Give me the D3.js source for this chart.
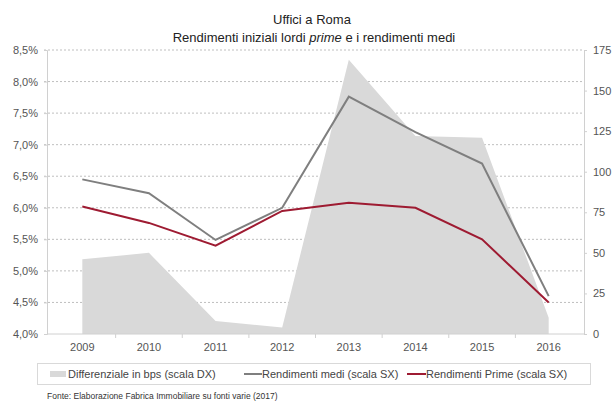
<!DOCTYPE html>
<html>
<head>
<meta charset="utf-8">
<script src="https://cdn.jsdelivr.net/npm/d3@7"></script>
<style>
  html, body { margin: 0; padding: 0; background: #fff; }
  svg { display: block; font-family: "Liberation Sans", Arial, sans-serif; }
</style>
</head>
<body>
<svg id="chart" width="616" height="402"></svg>
<script>
// Anni e serie
const years = ["2009", "2010", "2011", "2012", "2013", "2014", "2015", "2016"];
const differenziale = [46, 50, 8, 4, 169, 122, 121, 10];        // bps, scala DX
const rendimentiMedi = [6.45, 6.23, 5.49, 6.0, 7.76, 7.2, 6.7, 4.6]; // %, scala SX
const rendimentiPrime = [6.02, 5.76, 5.4, 5.95, 6.08, 6.0, 5.5, 4.5]; // %, scala SX
const leftTicks = [4.0, 4.5, 5.0, 5.5, 6.0, 6.5, 7.0, 7.5, 8.0, 8.5];
const rightTicks = [0, 25, 50, 75, 100, 125, 150, 175];

const svg = d3.select("#chart");
const plot = { left: 47, right: 584, top: 50, bottom: 334 };

const x = d3.scaleBand().domain(years).range([plot.left + 2, plot.right - 2]);
const cx = d => x(d) + x.bandwidth() / 2;
const yL = d3.scaleLinear().domain([4.0, 8.5]).range([plot.bottom, plot.top]);
const yR = d3.scaleLinear().domain([0, 175]).range([plot.bottom, plot.top]);

const fmtPct = d => d3.format(".1f")(d).replace(".", ",") + "%";

// Titolo
svg.append("text").attr("x", 312).attr("y", 24).attr("text-anchor", "middle")
  .attr("font-size", 13).attr("fill", "#222").text("Uffici a Roma");
const t2 = svg.append("text").attr("x", 314).attr("y", 42).attr("text-anchor", "middle")
  .attr("font-size", 13).attr("fill", "#222");
t2.append("tspan").text("Rendimenti iniziali lordi ");
t2.append("tspan").attr("font-style", "italic").text("prime");
t2.append("tspan").text(" e i rendimenti medi");

// Griglia tratteggiata
svg.append("g").selectAll("line").data(leftTicks.slice(1)).join("line")
  .attr("x1", plot.left - 3).attr("x2", plot.right)
  .attr("y1", d => yL(d)).attr("y2", d => yL(d))
  .attr("stroke", "#bfbfbf").attr("stroke-width", 1).attr("stroke-dasharray", "2,2");

// Area differenziale
const area = d3.area()
  .x((d, i) => cx(years[i]))
  .y0(plot.bottom)
  .y1(d => yR(d));
svg.append("path").datum(differenziale).attr("d", area).attr("fill", "#d9d9d9");

// Assi
const axL = svg.append("g").attr("transform", `translate(${plot.left},0)`)
  .call(d3.axisLeft(yL).tickValues(leftTicks).tickFormat(fmtPct).tickSize(3).tickPadding(6));
const axR = svg.append("g").attr("transform", `translate(${plot.right},0)`)
  .call(d3.axisRight(yR).tickValues(rightTicks).tickSize(3).tickPadding(6));
const axB = svg.append("g").attr("transform", `translate(0,${plot.bottom})`)
  .call(d3.axisBottom(x).tickSize(0).tickPadding(9));
// tacche tra le categorie
svg.append("g").selectAll("line").data(years.slice(1)).join("line")
  .attr("x1", d => x(d)).attr("x2", d => x(d))
  .attr("y1", plot.bottom).attr("y2", plot.bottom + 4)
  .attr("stroke", "#d0d0d0");

[axL, axR, axB].forEach(g => {
  g.select(".domain").attr("stroke", "#d0d0d0");
  g.selectAll(".tick line").attr("stroke", "#d0d0d0");
  g.selectAll(".tick text").attr("font-size", 11).attr("fill", "#555")
    .attr("font-family", "Liberation Sans, Arial, sans-serif");
});
axB.select(".domain").attr("d", `M${plot.left},0H${plot.right}`);

// Linee
const line = yScale => d3.line().x((d, i) => cx(years[i])).y(d => yScale(d));
svg.append("path").datum(rendimentiMedi).attr("d", line(yL))
  .attr("fill", "none").attr("stroke", "#7f7f7f").attr("stroke-width", 2);
svg.append("path").datum(rendimentiPrime).attr("d", line(yL))
  .attr("fill", "none").attr("stroke", "#9e1b32").attr("stroke-width", 2);

// Legenda
const lg = svg.append("g");
lg.append("rect").attr("x", 37.5).attr("y", 363.5).attr("width", 553).attr("height", 21)
  .attr("fill", "none").attr("stroke", "#d9d9d9");
lg.append("rect").attr("x", 50).attr("y", 371).attr("width", 16).attr("height", 6).attr("fill", "#d9d9d9");
lg.append("text").attr("x", 68).attr("y", 378).attr("font-size", 11).attr("fill", "#444")
  .text("Differenziale in bps (scala DX)");
lg.append("line").attr("x1", 244).attr("x2", 262).attr("y1", 374).attr("y2", 374)
  .attr("stroke", "#7f7f7f").attr("stroke-width", 2);
lg.append("text").attr("x", 262).attr("y", 378).attr("font-size", 11).attr("fill", "#444")
  .text("Rendimenti medi (scala SX)");
lg.append("line").attr("x1", 407).attr("x2", 426).attr("y1", 374).attr("y2", 374)
  .attr("stroke", "#9e1b32").attr("stroke-width", 2);
lg.append("text").attr("x", 426).attr("y", 378).attr("font-size", 11).attr("fill", "#444")
  .text("Rendimenti Prime (scala SX)");

// Fonte
svg.append("text").attr("x", 47).attr("y", 399).attr("font-size", 8.5).attr("fill", "#333")
  .text("Fonte: Elaborazione Fabrica Immobiliare su fonti varie (2017)");
</script>
</body>
</html>
